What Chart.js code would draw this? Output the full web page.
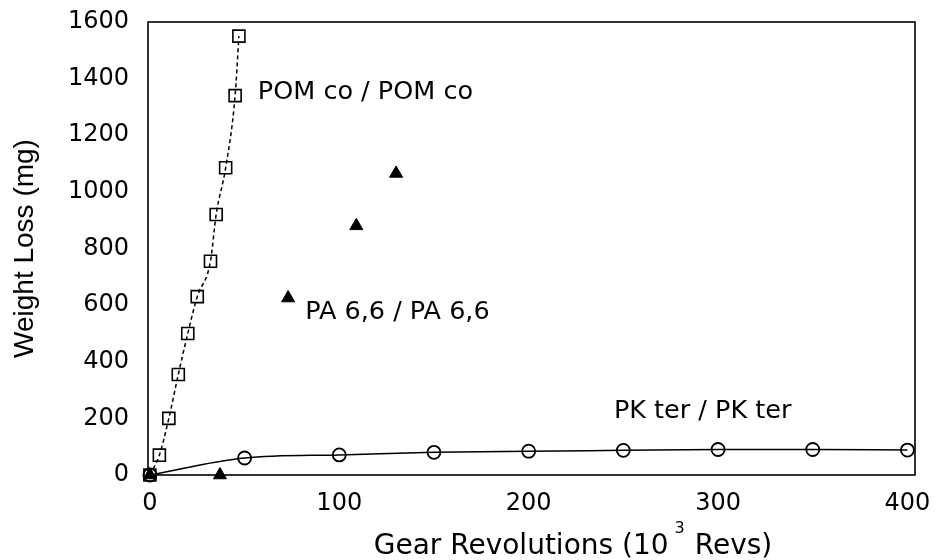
<!DOCTYPE html>
<html>
<head>
<meta charset="utf-8">
<script src="https://cdn.jsdelivr.net/npm/chart.js@4/dist/chart.umd.min.js"></script>
<style>
  html, body { margin: 0; padding: 0; background: #fff; }
  #wrap { width: 942px; height: 560px; position: relative; }
</style>
</head>
<body>
<div id="wrap"><canvas id="chart"></canvas></div>
<script>
// values
const pomX = [0, 5, 10, 15, 20, 25, 32, 35, 40, 45, 47];
const pomY = [0, 70, 200, 355, 500, 630, 755, 920, 1085, 1340, 1550];
const paX = [0, 37, 73, 109, 130];
const paY = [0, 0, 625, 880, 1065];
const pkX = [0, 50, 100, 150, 200, 250, 300, 350, 400];
const pkY = [0, 60, 71, 80, 84, 87, 90, 90, 88];
const xTicks = [0, 100, 200, 300, 400];
const yTicks = [0, 200, 400, 600, 800, 1000, 1200, 1400, 1600];

const labels = [
    { text: 'POM co / POM co', x: 57, y: 1353 },
    { text: 'PA 6,6 / PA 6,6', x: 82, y: 573 },
    { text: 'PK ter / PK ter', x: 245, y: 224 }
];

const toPoints = (xs, ys) => xs.map((x, i) => ({ x: x, y: ys[i] }));

const FONT = "'DejaVu Sans', Verdana, sans-serif";
const ARIAL = "'Liberation Sans', Arial, sans-serif";

// frame round the plot area, series captions and the x title with its superscript
const framePlugin = {
    id: 'frame',
    afterDraw(chart) {
        const { ctx, chartArea: a, scales } = chart;
        ctx.save();
        ctx.strokeStyle = '#000';
        ctx.lineWidth = 1.6;
        ctx.strokeRect(a.left, a.top, a.right - a.left, a.bottom - a.top);
        ctx.fillStyle = '#000';
        ctx.font = '25.5px ' + FONT;
        ctx.textAlign = 'left';
        ctx.textBaseline = 'middle';
        labels.forEach(l => {
            ctx.fillText(l.text, scales.x.getPixelForValue(l.x), scales.y.getPixelForValue(l.y));
        });

        // x axis title
        const main = '28px ' + FONT, sup = '16px ' + FONT;
        const p1 = 'Gear Revolutions (10', p2 = '3', p3 = 'Revs)';
        ctx.font = main;
        const w1 = ctx.measureText(p1).width, w3 = ctx.measureText(p3).width;
        ctx.font = sup;
        const w2 = ctx.measureText(p2).width;
        const g1 = 6, g2 = 10;
        const total = w1 + g1 + w2 + g2 + w3;
        let x = 573 - total / 2;
        const base = 554;
        ctx.textBaseline = 'alphabetic';
        ctx.font = main;
        ctx.fillText(p1, x, base);
        x += w1 + g1;
        ctx.font = sup;
        ctx.fillText(p2, x, base - 21);
        x += w2 + g2;
        ctx.font = main;
        ctx.fillText(p3, x, base);
        ctx.restore();
    }
};

const ctx = document.getElementById('chart').getContext('2d');
new Chart(ctx, {
    type: 'scatter',
    data: {
        datasets: [
            {
                label: 'POM co / POM co',
                data: toPoints(pomX, pomY),
                showLine: true,
                borderColor: '#000',
                borderWidth: 1.5,
                borderDash: [4, 3],
                tension: 0.3,
                cubicInterpolationMode: 'monotone',
                pointStyle: 'rect',
                pointRadius: 8.5,
                pointBorderWidth: 1.6,
                pointBorderColor: '#000',
                pointBackgroundColor: 'rgba(255,255,255,0)',
                clip: false
            },
            {
                label: 'PA 6,6 / PA 6,6',
                data: toPoints(paX, paY),
                showLine: false,
                pointStyle: 'triangle',
                pointRadius: 7.5,
                pointBorderWidth: 1,
                pointBorderColor: '#000',
                pointBackgroundColor: '#000',
                clip: false
            },
            {
                label: 'PK ter / PK ter',
                data: toPoints(pkX, pkY),
                showLine: true,
                borderColor: '#000',
                borderWidth: 1.5,
                cubicInterpolationMode: 'monotone',
                pointStyle: 'circle',
                pointRadius: 6.5,
                pointBorderWidth: 1.8,
                pointBorderColor: '#000',
                pointBackgroundColor: 'rgba(255,255,255,0)',
                clip: false
            }
        ]
    },
    options: {
        responsive: true,
        maintainAspectRatio: false,
        animation: false,
        layout: { padding: { top: 22, right: 27, left: 0, bottom: 0 } },
        plugins: {
            legend: { display: false },
            tooltip: { enabled: false }
        },
        scales: {
            x: {
                type: 'linear',
                min: -1,
                max: 404,
                afterBuildTicks: s => { s.ticks = xTicks.map(v => ({ value: v })); },
                afterFit: s => { s.height = 85; s.paddingLeft = 0; s.paddingRight = 0; },
                grid: { display: false },
                border: { display: false },
                ticks: {
                    color: '#000',
                    padding: 6,
                    font: { family: FONT, size: 24 },
                    callback: v => String(v)
                },
                title: { display: false }
            },
            y: {
                type: 'linear',
                min: 0,
                max: 1600,
                afterBuildTicks: s => { s.ticks = yTicks.map(v => ({ value: v })); },
                afterFit: s => { s.width = 148; s.paddingTop = 0; s.paddingBottom = 0; },
                grid: { display: false },
                border: { display: false },
                ticks: {
                    color: '#000',
                    padding: 11,
                    font: { family: FONT, size: 24 },
                    callback: v => String(v)
                },
                title: {
                    display: true,
                    text: 'Weight Loss (mg)',
                    color: '#000',
                    padding: { top: 8, bottom: 0 },
                    font: { family: ARIAL, size: 28 }
                }
            }
        }
    },
    plugins: [framePlugin]
});
</script>
</body>
</html>
